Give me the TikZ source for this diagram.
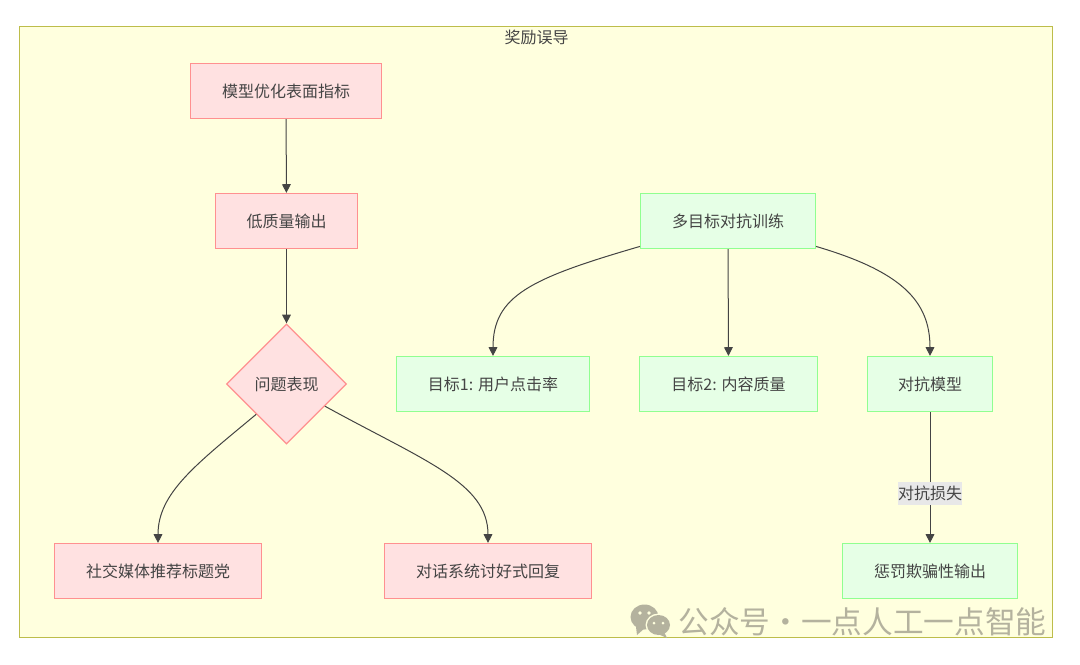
\documentclass[tikz,border=0pt]{standalone}
\usepackage{fontspec}
\usepackage[HTML]{xcolor}
\setmainfont{Noto Sans CJK SC}
\usetikzlibrary{positioning, arrows.meta, shapes.geometric}
\definecolor{linegray}{HTML}{444444}
\definecolor{markgray}{HTML}{B4B29E}
\definecolor{groupfill}{HTML}{FFFFDE}
\definecolor{groupline}{HTML}{BDBD4A}
\definecolor{redline}{HTML}{FF9090}
\definecolor{redfill}{HTML}{FFE1E1}
\definecolor{greenline}{HTML}{90FF90}
\definecolor{greenfill}{HTML}{E6FFE6}
\definecolor{labelfill}{HTML}{E8E8E8}
\tikzset{
  redbox/.style={draw=redline,fill=redfill,line width=0.9pt,minimum height=41.25pt,inner sep=0pt,text=linegray},
  greenbox/.style={draw=greenline,fill=greenfill,line width=0.9pt,minimum height=41.25pt,inner sep=0pt,text=linegray},
  flow/.style={draw=linegray,line width=0.75pt,-{Triangle[length=6.5pt,width=6.5pt]}},
}
\begin{document}
\begin{tikzpicture}[x=0.75pt,y=-0.75pt,font=\fontsize{12pt}{14pt}\selectfont]
\useasboundingbox (0,0) rectangle (1080,664);
% group
\node[draw=groupline,fill=groupfill,line width=0.75pt,minimum width=775pt,minimum height=458.25pt,inner sep=0pt] (group) at (536.25,331.5) {};
\node[text=linegray] (title) at (536.5,37) {奖励误导};
% left column
\node[redbox,minimum width=143.25pt] (surface) at (286,91) {模型优化表面指标};
\node[redbox,minimum width=106.5pt] (lowq) at (286.5,221) {低质量输出};
\node[diamond,aspect=1,draw=redline,fill=redfill,line width=0.9pt,minimum width=90pt,minimum height=90pt,inner sep=0pt,text=linegray] (issue) at (286.5,384) {问题表现};
\node[redbox,minimum width=155.25pt] (clickbait) at (158,571) {社交媒体推荐标题党};
\node[redbox,minimum width=155.25pt] (flatter) at (488,571) {对话系统讨好式回复};
% right part
\node[greenbox,minimum width=131.25pt] (train) at (728,221) {多目标对抗训练};
\node[greenbox,minimum width=144.75pt] (goal1) at (493,384) {目标1: 用户点击率};
\node[greenbox,minimum width=133.5pt] (goal2) at (728.5,384) {目标2: 内容质量};
\node[greenbox,minimum width=93.75pt] (adv) at (930,384) {对抗模型};
\node[greenbox,minimum width=131.25pt] (punish) at (930,571) {惩罚欺骗性输出};
% edges
\draw[flow] (surface) -- (lowq);
\draw[flow] (lowq) -- (issue);
\draw[flow] (issue.south west) .. controls +(-60,50) and +(0,-50) .. (clickbait.north);
\draw[flow] (issue.-30) .. controls +(100,55) and +(0,-60) .. (flatter.north);
\draw[flow] ([yshift=2pt]train.south west) .. controls +(-110,32) and +(0,-60) .. (goal1.north);
\draw[flow] (train) -- (goal2);
\draw[flow] ([yshift=2pt]train.south east) .. controls +(85,25) and +(0,-55) .. (adv.north);
\draw[flow] (adv) -- node[pos=0.62,fill=labelfill,text=linegray,inner xsep=0pt,inner ysep=0pt,minimum height=17pt] (advloss) {对抗损失} (punish);
% watermark
\fill[markgray] (644.5,617) ellipse (14 and 12.5);
\fill[markgray] (636,627) -- (637,635) -- (645,628) -- cycle;
\fill[groupfill] (658.5,625) ellipse (13 and 11.5);
\fill[markgray] (658.5,625) ellipse (11.5 and 10);
\fill[markgray] (664,632) -- (667,638) -- (658,634) -- cycle;
\fill[groupfill] (640,613) circle (1.8) (649,613) circle (1.8) (654,623) circle (1.5) (663,623) circle (1.5);
\node[text=markgray,font=\fontsize{23pt}{26pt}\selectfont] (mark) at (862.5,621.5) {公众号·一点人工一点智能};
\end{tikzpicture}
\end{document}
